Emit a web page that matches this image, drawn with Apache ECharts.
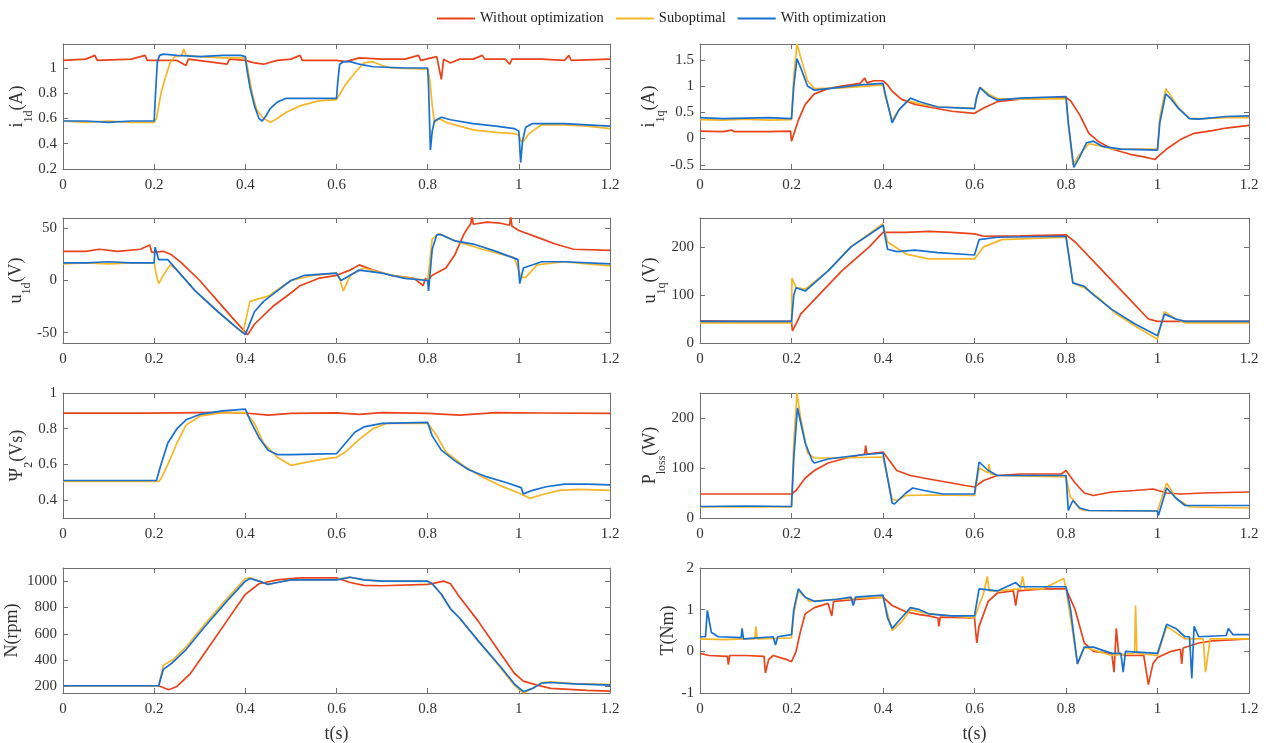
<!DOCTYPE html>
<html lang="en">
<head>
<meta charset="UTF-8">
<title>Motor response comparison</title>
<style>
    body { margin: 0; background: #fff; }
    #chart { width: 1266px; height: 743px; }
</style>
</head>
<body>
<div id="chart"></div>
<script src="https://cdn.jsdelivr.net/npm/echarts@6/dist/echarts.min.js"></script>
<script>
// series names / shared x ticks
var names = ['Without optimization', 'Suboptimal', 'With optimization'];
var xTicks = [0, 0.2, 0.4, 0.6, 0.8, 1, 1.2];

// i1d (A)
var i1dWithout = [[0,1.06],[0.05,1.07],[0.07,1.1],[0.075,1.06],[0.15,1.07],[0.18,1.1],[0.185,1.06],[0.25,1.06],[0.27,1.02],[0.275,1.07],[0.36,1.03],[0.365,1.07],[0.4,1.06],[0.42,1.04],[0.44,1.03],[0.47,1.06],[0.5,1.07],[0.52,1.1],[0.525,1.06],[0.6,1.06],[0.62,1.05],[0.65,1.08],[0.7,1.07],[0.75,1.07],[0.78,1.1],[0.785,1.06],[0.82,1.09],[0.83,0.91],[0.835,1.07],[0.85,1.04],[0.87,1.07],[0.9,1.07],[0.92,1.1],[0.925,1.07],[0.97,1.07],[0.98,1.03],[0.985,1.07],[1.05,1.07],[1.1,1.06],[1.11,1.1],[1.115,1.06],[1.2,1.07]];
var i1dSub = [[0,0.58],[0.05,0.57],[0.1,0.58],[0.15,0.57],[0.2,0.57],[0.205,0.6],[0.215,0.8],[0.225,0.93],[0.235,1.04],[0.245,1.09],[0.26,1.1],[0.265,1.15],[0.27,1.1],[0.3,1.09],[0.35,1.08],[0.4,1.08],[0.405,1.0],[0.415,0.8],[0.425,0.67],[0.44,0.6],[0.455,0.57],[0.47,0.6],[0.49,0.65],[0.52,0.7],[0.56,0.74],[0.6,0.75],[0.605,0.78],[0.62,0.87],[0.64,0.96],[0.66,1.04],[0.68,1.05],[0.7,1.02],[0.72,1.0],[0.8,0.99],[0.805,0.9],[0.81,0.7],[0.815,0.57],[0.825,0.6],[0.84,0.57],[0.86,0.55],[0.9,0.51],[0.95,0.49],[0.99,0.48],[1.0,0.47],[1.005,0.42],[1.01,0.42],[1.02,0.47],[1.03,0.5],[1.05,0.55],[1.1,0.55],[1.15,0.54],[1.2,0.52]];
var i1dWith = [[0,0.58],[0.05,0.58],[0.1,0.57],[0.15,0.58],[0.2,0.58],[0.203,0.8],[0.207,1.05],[0.212,1.1],[0.22,1.11],[0.25,1.1],[0.3,1.09],[0.35,1.1],[0.39,1.1],[0.4,1.09],[0.403,1.0],[0.41,0.85],[0.42,0.7],[0.43,0.6],[0.437,0.58],[0.445,0.62],[0.455,0.68],[0.47,0.73],[0.49,0.76],[0.55,0.76],[0.6,0.76],[0.603,0.9],[0.607,1.03],[0.615,1.05],[0.63,1.05],[0.65,1.03],[0.68,1.01],[0.75,1.0],[0.8,1.0],[0.802,0.85],[0.806,0.35],[0.81,0.5],[0.815,0.58],[0.83,0.61],[0.85,0.59],[0.9,0.56],[0.95,0.54],[0.99,0.52],[1.0,0.5],[1.004,0.25],[1.008,0.42],[1.015,0.53],[1.03,0.56],[1.1,0.56],[1.15,0.55],[1.2,0.54]];
var i1dTicks = [0.2, 0.4, 0.6, 0.8, 1];

// i1q (A)
var i1qWithout = [[0,0.14],[0.05,0.13],[0.07,0.16],[0.075,0.13],[0.15,0.13],[0.198,0.14],[0.2,-0.05],[0.205,0.08],[0.215,0.35],[0.23,0.65],[0.25,0.85],[0.28,0.95],[0.31,1.0],[0.35,1.05],[0.36,1.15],[0.365,1.06],[0.38,1.1],[0.4,1.1],[0.41,1.02],[0.42,0.9],[0.44,0.75],[0.47,0.65],[0.5,0.6],[0.55,0.52],[0.6,0.48],[0.62,0.58],[0.65,0.7],[0.7,0.75],[0.8,0.78],[0.81,0.72],[0.83,0.45],[0.85,0.1],[0.87,-0.05],[0.9,-0.2],[0.94,-0.3],[0.97,-0.35],[0.995,-0.4],[1.0,-0.35],[1.02,-0.2],[1.05,-0.02],[1.08,0.1],[1.12,0.15],[1.15,0.2],[1.2,0.25]];
var i1qSub = [[0,0.36],[0.05,0.35],[0.1,0.37],[0.15,0.35],[0.2,0.36],[0.205,1.2],[0.212,1.8],[0.22,1.55],[0.235,1.1],[0.25,0.95],[0.3,0.96],[0.35,0.99],[0.4,1.02],[0.405,0.8],[0.42,0.35],[0.435,0.55],[0.455,0.72],[0.48,0.66],[0.52,0.6],[0.6,0.58],[0.605,0.8],[0.612,0.98],[0.63,0.85],[0.65,0.76],[0.7,0.75],[0.8,0.76],[0.805,0.3],[0.815,-0.5],[0.83,-0.3],[0.85,-0.1],[0.88,-0.15],[0.9,-0.2],[1.0,-0.2],[1.005,0.4],[1.018,0.95],[1.03,0.8],[1.045,0.6],[1.07,0.38],[1.1,0.38],[1.15,0.4],[1.2,0.4]];
var i1qWith = [[0,0.4],[0.05,0.38],[0.1,0.39],[0.15,0.4],[0.2,0.38],[0.205,1.0],[0.212,1.52],[0.22,1.35],[0.235,1.0],[0.25,0.92],[0.3,0.97],[0.35,1.02],[0.4,1.05],[0.405,0.85],[0.42,0.3],[0.435,0.55],[0.46,0.77],[0.48,0.7],[0.52,0.6],[0.6,0.57],[0.605,0.8],[0.612,0.97],[0.63,0.82],[0.65,0.73],[0.7,0.77],[0.8,0.8],[0.805,0.3],[0.817,-0.55],[0.83,-0.35],[0.845,-0.08],[0.86,-0.05],[0.88,-0.15],[0.92,-0.2],[1.0,-0.22],[1.005,0.3],[1.018,0.85],[1.03,0.75],[1.045,0.58],[1.07,0.38],[1.09,0.37],[1.15,0.42],[1.2,0.43]];
var i1qTicks = [-0.5, 0, 0.5, 1, 1.5];

// u1d (V)
var u1dWithout = [[0,28],[0.05,28],[0.08,30],[0.12,28],[0.17,30],[0.19,34],[0.195,27],[0.22,28],[0.237,25],[0.26,17],[0.3,0],[0.34,-20],[0.38,-40],[0.405,-52],[0.42,-42],[0.46,-25],[0.5,-12],[0.52,-5],[0.56,2],[0.6,5],[0.63,10],[0.65,15],[0.68,10],[0.72,5],[0.77,2],[0.79,-5],[0.795,2],[0.8,0],[0.81,5],[0.84,12],[0.86,25],[0.88,45],[0.895,55],[0.897,63],[0.9,54],[0.93,56],[0.96,55],[0.98,53],[0.982,63],[0.985,52],[1.0,48],[1.05,40],[1.08,35],[1.12,30],[1.2,29]];
var u1dSub = [[0,16],[0.05,17],[0.1,16],[0.15,17],[0.2,17],[0.205,5],[0.21,-3],[0.22,5],[0.235,15],[0.25,10],[0.29,-10],[0.34,-30],[0.38,-45],[0.395,-50],[0.41,-20],[0.45,-15],[0.5,0],[0.55,5],[0.6,7],[0.608,0],[0.615,-10],[0.63,5],[0.66,12],[0.72,5],[0.8,0],[0.81,40],[0.825,45],[0.86,38],[0.92,30],[0.99,22],[1.005,3],[1.015,3],[1.04,15],[1.1,18],[1.15,16],[1.2,14]];
var u1dWith = [[0,17],[0.05,17],[0.1,18],[0.15,17],[0.2,17],[0.202,32],[0.21,20],[0.23,20],[0.25,10],[0.29,-10],[0.34,-30],[0.38,-45],[0.4,-52],[0.42,-30],[0.44,-20],[0.47,-10],[0.5,0],[0.53,5],[0.6,7],[0.61,0],[0.63,5],[0.65,10],[0.7,7],[0.75,2],[0.8,0],[0.802,-10],[0.81,30],[0.82,44],[0.83,44],[0.86,38],[0.9,35],[0.95,28],[0.998,20],[1.002,-3],[1.01,12],[1.05,18],[1.1,18],[1.2,16]];
var u1dTicks = [-50, 0, 50];

// u1q (V)
var u1qWithout = [[0,46],[0.1,45],[0.2,45],[0.202,25],[0.21,40],[0.22,60],[0.26,100],[0.31,150],[0.37,200],[0.4,230],[0.45,230],[0.5,232],[0.55,230],[0.6,227],[0.62,222],[0.7,223],[0.8,225],[0.82,210],[0.88,150],[0.93,100],[0.98,50],[1.0,45],[1.1,45],[1.2,45]];
var u1qSub = [[0,42],[0.1,42],[0.2,42],[0.201,135],[0.21,115],[0.23,112],[0.28,150],[0.33,200],[0.4,248],[0.41,210],[0.45,185],[0.5,175],[0.6,175],[0.62,200],[0.66,215],[0.8,220],[0.815,125],[0.84,115],[0.87,95],[0.91,60],[0.96,30],[1.0,8],[1.015,65],[1.04,50],[1.06,42],[1.2,42]];
var u1qWith = [[0,45],[0.1,45],[0.2,45],[0.205,100],[0.21,115],[0.23,108],[0.28,150],[0.33,200],[0.4,245],[0.41,195],[0.43,190],[0.47,193],[0.52,188],[0.6,183],[0.61,215],[0.65,220],[0.8,222],[0.815,125],[0.84,118],[0.86,100],[0.9,70],[0.95,40],[1.0,15],[1.015,60],[1.04,50],[1.06,45],[1.2,45]];
var u1qTicks = [0, 100, 200];

// psi2 (Vs)
var psiWithout = [[0,0.887],[0.2,0.887],[0.3,0.89],[0.35,0.891],[0.4,0.888],[0.45,0.876],[0.5,0.886],[0.6,0.889],[0.65,0.88],[0.7,0.89],[0.8,0.886],[0.87,0.876],[0.95,0.89],[1.05,0.888],[1.2,0.886]];
var psiSub = [[0,0.505],[0.21,0.505],[0.215,0.52],[0.23,0.6],[0.25,0.72],[0.27,0.82],[0.3,0.87],[0.35,0.89],[0.4,0.89],[0.42,0.83],[0.44,0.72],[0.47,0.64],[0.5,0.595],[0.53,0.61],[0.57,0.63],[0.6,0.64],[0.62,0.67],[0.65,0.74],[0.68,0.8],[0.71,0.83],[0.8,0.83],[0.82,0.76],[0.84,0.67],[0.88,0.59],[0.92,0.53],[0.96,0.48],[1.0,0.44],[1.025,0.41],[1.05,0.43],[1.09,0.455],[1.13,0.46],[1.2,0.455]];
var psiWith = [[0,0.51],[0.205,0.51],[0.215,0.6],[0.23,0.72],[0.25,0.8],[0.27,0.85],[0.3,0.88],[0.35,0.9],[0.4,0.91],[0.41,0.85],[0.43,0.75],[0.45,0.68],[0.47,0.655],[0.5,0.655],[0.6,0.66],[0.62,0.72],[0.64,0.78],[0.66,0.81],[0.7,0.83],[0.8,0.835],[0.81,0.76],[0.83,0.68],[0.86,0.62],[0.89,0.57],[0.93,0.53],[0.97,0.5],[1.005,0.47],[1.01,0.435],[1.03,0.455],[1.06,0.475],[1.1,0.49],[1.15,0.49],[1.2,0.485]];
var psiTicks = [0.4, 0.6, 0.8, 1];

// Ploss (W)
var plossWithout = [[0,48],[0.1,48],[0.2,48],[0.21,55],[0.23,80],[0.25,95],[0.28,110],[0.32,120],[0.36,128],[0.362,145],[0.365,128],[0.4,132],[0.41,120],[0.43,95],[0.46,85],[0.5,78],[0.55,70],[0.58,65],[0.6,62],[0.62,75],[0.65,85],[0.7,88],[0.79,88],[0.8,95],[0.82,70],[0.84,50],[0.86,45],[0.9,52],[0.95,55],[0.99,58],[1.02,50],[1.05,48],[1.1,50],[1.2,52]];
var plossSub = [[0,22],[0.1,22],[0.2,22],[0.205,150],[0.212,250],[0.22,200],[0.235,130],[0.25,120],[0.3,120],[0.4,122],[0.42,38],[0.43,35],[0.45,45],[0.5,46],[0.6,45],[0.61,100],[0.63,90],[0.632,108],[0.635,88],[0.65,85],[0.8,82],[0.81,40],[0.815,38],[0.83,18],[0.84,15],[1.0,14],[1.02,70],[1.04,40],[1.07,22],[1.2,20]];
var plossWith = [[0,23],[0.1,24],[0.2,23],[0.205,120],[0.213,220],[0.23,150],[0.245,115],[0.25,110],[0.28,118],[0.34,125],[0.4,130],[0.42,30],[0.425,28],[0.45,50],[0.465,60],[0.49,55],[0.53,48],[0.6,48],[0.61,112],[0.63,95],[0.65,85],[0.8,85],[0.805,15],[0.815,35],[0.83,20],[0.85,15],[1.0,14],[1.002,5],[1.02,60],[1.04,40],[1.06,25],[1.2,25]];
var plossTicks = [0, 100, 200];

// N (rpm)
var nWithout = [[0,205],[0.21,205],[0.232,175],[0.25,200],[0.28,300],[0.32,500],[0.36,700],[0.4,900],[0.43,980],[0.47,1010],[0.52,1025],[0.6,1025],[0.63,990],[0.66,968],[0.7,965],[0.8,975],[0.815,985],[0.835,1000],[0.85,980],[0.87,880],[0.91,700],[0.95,500],[0.99,300],[1.01,240],[1.04,210],[1.07,185],[1.1,180],[1.15,170],[1.2,165]];
var nSub = [[0,205],[0.21,205],[0.22,360],[0.24,400],[0.27,500],[0.31,670],[0.36,870],[0.4,1020],[0.41,1025],[0.43,1000],[0.45,975],[0.47,990],[0.5,1010],[0.6,1012],[0.63,1030],[0.66,1010],[0.7,1000],[0.8,998],[0.81,980],[0.83,900],[0.85,790],[0.87,720],[0.91,550],[0.96,340],[0.99,210],[1.01,150],[1.03,185],[1.05,230],[1.07,235],[1.12,222],[1.2,215]];
var nWith = [[0,205],[0.21,205],[0.22,330],[0.24,380],[0.27,480],[0.31,650],[0.36,850],[0.4,1000],[0.41,1020],[0.43,1000],[0.45,975],[0.47,990],[0.5,1010],[0.6,1010],[0.63,1030],[0.66,1010],[0.7,1000],[0.8,1000],[0.81,980],[0.83,900],[0.85,790],[0.87,720],[0.91,550],[0.96,350],[0.99,220],[1.01,160],[1.03,185],[1.05,225],[1.07,230],[1.12,220],[1.2,210]];
var nTicks = [200, 400, 600, 800, 1000];

// T (Nm)
var tWithout = [[0,-0.05],[0.02,-0.1],[0.06,-0.12],[0.062,-0.32],[0.065,-0.1],[0.1,-0.1],[0.14,-0.12],[0.143,-0.52],[0.15,-0.2],[0.16,-0.1],[0.19,-0.2],[0.2,-0.25],[0.21,0],[0.22,0.5],[0.23,0.9],[0.25,1.05],[0.28,1.15],[0.288,0.85],[0.292,1.2],[0.35,1.25],[0.4,1.3],[0.42,1.1],[0.45,0.95],[0.48,0.88],[0.5,0.85],[0.52,0.8],[0.522,0.6],[0.525,0.82],[0.6,0.8],[0.605,0.2],[0.61,0.6],[0.63,1.2],[0.65,1.4],[0.685,1.45],[0.69,1.1],[0.695,1.45],[0.75,1.5],[0.8,1.5],[0.82,1.0],[0.84,0.2],[0.86,0],[0.9,-0.05],[0.905,-0.5],[0.91,0.55],[0.915,-0.05],[0.93,-0.1],[0.97,-0.1],[0.98,-0.8],[0.99,-0.3],[1.0,-0.15],[1.03,0],[1.05,0.05],[1.053,-0.3],[1.056,0.08],[1.09,0.2],[1.12,0.25],[1.2,0.3]];
var tSub = [[0,0.3],[0.05,0.28],[0.1,0.3],[0.12,0.3],[0.122,0.6],[0.125,0.3],[0.2,0.32],[0.205,0.9],[0.215,1.45],[0.24,1.2],[0.3,1.25],[0.4,1.3],[0.41,0.9],[0.42,0.5],[0.44,0.7],[0.46,1.0],[0.5,0.9],[0.6,0.8],[0.62,1.4],[0.628,1.8],[0.632,1.45],[0.65,1.45],[0.7,1.5],[0.705,1.8],[0.71,1.5],[0.75,1.5],[0.795,1.75],[0.8,1.5],[0.81,0.8],[0.825,-0.3],[0.84,0.1],[0.9,-0.1],[0.95,-0.05],[0.952,1.1],[0.955,-0.05],[1.0,-0.1],[1.02,0.6],[1.06,0.3],[1.1,0.3],[1.105,-0.5],[1.115,0.3],[1.2,0.3]];
var tWith = [[0,0.35],[0.012,0.35],[0.016,0.98],[0.025,0.45],[0.04,0.35],[0.09,0.33],[0.092,0.55],[0.095,0.3],[0.16,0.35],[0.165,0.15],[0.17,0.35],[0.2,0.4],[0.205,1.0],[0.215,1.5],[0.23,1.3],[0.25,1.2],[0.3,1.25],[0.33,1.3],[0.335,1.1],[0.34,1.3],[0.4,1.35],[0.41,0.8],[0.42,0.55],[0.44,0.8],[0.46,1.05],[0.48,1.0],[0.5,0.9],[0.55,0.85],[0.6,0.85],[0.61,1.5],[0.65,1.45],[0.69,1.65],[0.7,1.55],[0.8,1.55],[0.81,1.0],[0.825,-0.3],[0.84,0.1],[0.86,0.1],[0.9,-0.05],[0.92,-0.05],[0.925,-0.5],[0.93,0.0],[1.0,-0.05],[1.02,0.65],[1.04,0.55],[1.06,0.35],[1.07,0.35],[1.075,-0.65],[1.08,0.6],[1.09,0.35],[1.15,0.38],[1.155,0.55],[1.165,0.4],[1.2,0.4]];
var tTicks = [-1, 0, 1, 2];

var colors = ['#e8431b', '#f6b628', '#1a70cf'];
var font = "'Liberation Serif', 'DejaVu Serif', serif";
var axisColor = '#707070';

// panel order: left/right by rows
var panels = [
    { label: '{n|i}{s|1d}{n|(A)}', min: 0.2, max: 1.19, ticks: i1dTicks, data: [i1dWithout, i1dSub, i1dWith], gap: 24 },
    { label: '{n|i}{s|1q}{n|(A)}', min: -0.58, max: 1.8, ticks: i1qTicks, data: [i1qWithout, i1qSub, i1qWith], gap: 30 },
    { label: '{n|u}{s|1d}{n|(V)}', min: -60, max: 60, ticks: u1dTicks, data: [u1dWithout, u1dSub, u1dWith], gap: 30 },
    { label: '{n|u}{s|1q}{n|(V)}', min: 0, max: 260, ticks: u1qTicks, data: [u1qWithout, u1qSub, u1qWith], gap: 31 },
    { label: '{n|\u03A8}{s|2}{n|(Vs)}', min: 0.3, max: 1, ticks: psiTicks, data: [psiWithout, psiSub, psiWith], gap: 28 },
    { label: '{n|P}{s|loss}{n|(W)}', min: 0, max: 250, ticks: plossTicks, data: [plossWithout, plossSub, plossWith], gap: 31 },
    { label: '{n|N(rpm)}', min: 150, max: 1100, ticks: nTicks, data: [nWithout, nSub, nWith], gap: 34 },
    { label: '{n|T(Nm)}', min: -1, max: 2, ticks: tTicks, data: [tWithout, tSub, tWith], gap: 15 }
];

var tops = [44, 218, 393, 568];
var grids = [], xBottom = [], xTop = [], yLeft = [], yRight = [], series = [];

panels.forEach(function (p, i) {
    var col = i % 2, row = Math.floor(i / 2);
    grids.push({
        left: col ? 700 : 63,
        width: col ? 549 : 547,
        top: tops[row],
        height: 125,
        outerBoundsMode: 'none',
        containLabel: false
    });
    var line = { show: true, onZero: false, lineStyle: { color: axisColor, width: 1 } };
    xBottom.push({
        type: 'value', gridIndex: i, min: 0, max: 1.2,
        axisLine: line,
        axisTick: { inside: true, length: 5, customValues: xTicks, lineStyle: { color: axisColor } },
        axisLabel: { customValues: xTicks, formatter: function (v) { return String(v); },
            fontFamily: font, fontSize: 15, color: '#333', margin: 9 },
        splitLine: { show: false },
        name: row === 3 ? 't(s)' : '',
        nameLocation: 'middle', nameGap: 32,
        nameTextStyle: { fontFamily: font, fontSize: 18, color: '#333' }
    });
    xTop.push({
        type: 'value', gridIndex: i, min: 0, max: 1.2, position: 'top',
        axisLine: line,
        axisTick: { inside: true, length: 5, customValues: xTicks, lineStyle: { color: axisColor } },
        axisLabel: { show: false },
        splitLine: { show: false }
    });
    yLeft.push({
        type: 'value', gridIndex: i, min: p.min, max: p.max,
        axisLine: line,
        axisTick: { inside: true, length: 5, customValues: p.ticks, lineStyle: { color: axisColor } },
        axisLabel: { customValues: p.ticks, formatter: function (v) { return String(v); },
            fontFamily: font, fontSize: 15, color: '#333', margin: 6 },
        splitLine: { show: false },
        name: p.label, nameLocation: 'middle', nameGap: p.gap,
        nameTextStyle: {
            fontFamily: font, color: '#333',
            rich: {
                n: { fontFamily: font, fontSize: 18, color: '#333', lineHeight: 26, verticalAlign: 'top' },
                s: { fontFamily: font, fontSize: 12, color: '#333', lineHeight: 12, verticalAlign: 'bottom' }
            }
        }
    });
    yRight.push({
        type: 'value', gridIndex: i, min: p.min, max: p.max, position: 'right',
        axisLine: line,
        axisTick: { inside: true, length: 5, customValues: p.ticks, lineStyle: { color: axisColor } },
        axisLabel: { show: false },
        splitLine: { show: false }
    });
    p.data.forEach(function (d, k) {
        series.push({
            name: names[k], type: 'line', data: d,
            xAxisIndex: i, yAxisIndex: i,
            symbol: 'none', z: 2 + k,
            lineStyle: { color: colors[k], width: 1.7 },
            itemStyle: { color: colors[k] }
        });
    });
});

var chart = echarts.init(document.getElementById('chart'));
chart.setOption({
    animation: false,
    backgroundColor: '#fff',
    legend: {
        top: 6, left: 432, icon: 'rect', itemWidth: 38, itemHeight: 2, itemGap: 12,
        data: names,
        textStyle: { fontFamily: font, fontSize: 14.5, color: '#222' }
    },
    grid: grids,
    xAxis: xBottom.concat(xTop),
    yAxis: yLeft.concat(yRight),
    series: series
});
</script>
</body>
</html>
